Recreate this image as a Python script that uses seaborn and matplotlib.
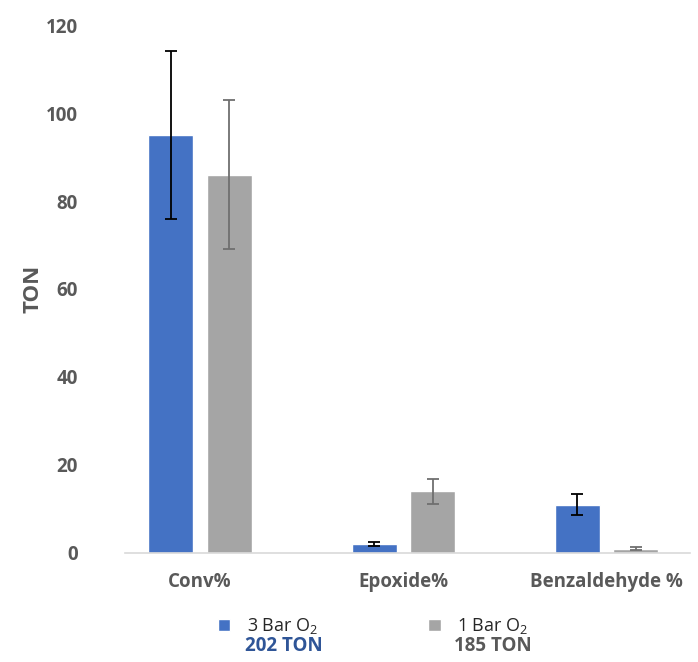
import numpy as np
import pandas as pd
import matplotlib
matplotlib.use('Agg')
import matplotlib.pyplot as plt
import seaborn as sns

categories = ['Conv%', 'Epoxide%', 'Benzaldehyde %']
series = ['3 Bar O$_2$', '1 Bar O$_2$']
ton_3bar = [95, 2, 11]
ton_1bar = [86, 14, 1]
err_3bar = [19, 0.5, 2.3]
err_1bar = [17, 2.8, 0.25]
totals = ['202 TON', '185 TON']

blue = '#4472C4'
grey = '#A5A5A5'
txt = '#595959'

sns.set_theme(style='white')
plt.rcParams['font.family'] = ['Open Sans', 'DejaVu Sans']
plt.rcParams['mathtext.default'] = 'regular'

df = pd.DataFrame({
  'cat': categories * 2,
  'series': [series[0]] * 3 + [series[1]] * 3,
  'ton': ton_3bar + ton_1bar,
})

fig = plt.figure(figsize=(6.98, 6.62), dpi=100)
ax = fig.add_axes([0.179, 0.1647, 0.8095, 0.7975])

sns.barplot(data=df, x='cat', y='ton', hue='series', order=categories,
            hue_order=series, palette=[blue, grey], width=0.575, gap=0.23,
            errorbar=None, saturation=1, ax=ax)

# error bars on top of the bars, from the given values
bars = ax.patches
errs = err_3bar + err_1bar
ecolors = ['black'] * 3 + ['#6f6f6f'] * 3
for b, e, c in zip(bars[:6], errs, ecolors):
  xc = b.get_x() + b.get_width()/2
  ax.errorbar(xc, b.get_height(), yerr=e, color=c, capsize=4, elinewidth=1.3,
              capthick=1.3, fmt='none')

ax.set_ylim(0, 120)
ax.set_xlim(-0.37, 2.41)
ax.set_yticks(np.arange(0, 121, 20))
for s in ['left', 'right', 'top']:
  ax.spines[s].set_visible(False)
ax.spines['bottom'].set_color('#d9d9d9')
ax.spines['bottom'].set_linewidth(1.2)
ax.tick_params(axis='y', length=0, pad=34, labelsize=13.5, labelcolor=txt)
ax.tick_params(axis='x', length=0, pad=14, labelsize=13.5, labelcolor=txt)
for lab in ax.get_xticklabels() + ax.get_yticklabels():
  lab.set_fontweight('bold')
ax.set_xlabel('')
ax.set_ylabel('TON', fontsize=16, fontweight='bold', color=txt)
ax.yaxis.set_label_coords(-0.145, 0.5)

handles, labels = ax.get_legend_handles_labels()
ax.legend(handles, labels, loc='center left', bbox_to_anchor=(0.312, 0.054),
          bbox_transform=fig.transFigure, ncol=2, frameon=False, fontsize=13,
          handlelength=0.7, handleheight=0.7, handletextpad=0.9,
          columnspacing=6.1, labelcolor='#262626', borderpad=0,
          borderaxespad=0)

fig.text(0.351, 0.017, totals[0], fontsize=13.5, fontweight='bold', color='#2F5597')
fig.text(0.650, 0.017, totals[1], fontsize=13.5, fontweight='bold', color=txt)

fig.savefig('out.png', dpi=100)
